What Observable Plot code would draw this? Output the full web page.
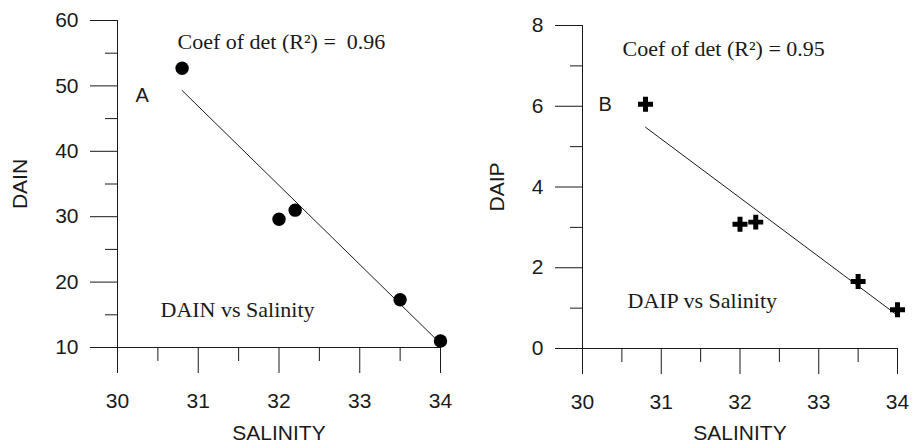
<!DOCTYPE html>
<html><head><meta charset="utf-8">
<script src="https://cdn.jsdelivr.net/npm/d3@7"></script>
<script src="https://cdn.jsdelivr.net/npm/@observablehq/plot@0.6"></script>
<style>
body{margin:0;background:#fff;}
#wrap{display:flex;width:912px;height:448px;}
#wrap svg{display:block;}
</style></head><body><div id="wrap"></div>
<script>
// ---- data ----
const salinity = [30.8, 32.0, 32.2, 33.5, 34.0];
const dain = [52.7, 29.6, 31.0, 17.3, 11.0];
const daip = [6.05, 3.08, 3.13, 1.66, 0.96];
const fitSalinity = [30.8, 34.0];
const fitDain = [49.3, 10.6];
const fitDaip = [5.48, 0.82];
const xTicks = [30, 31, 32, 33, 34];
const xMinorTicks = [30.5, 31.5, 32.5, 33.5];
const dainTicks = [10, 20, 30, 40, 50, 60];
const dainMinorTicks = [15, 25, 35, 45, 55];
const daipTicks = [0, 2, 4, 6, 8];
const daipMinorTicks = [1, 3, 5, 7];
const panelLetters = ["A", "B"];
const r2Texts = ["Coef of det (R\u00B2) =  0.96", "Coef of det (R\u00B2) = 0.95"];
const titles = ["DAIN vs Salinity", "DAIP vs Salinity"];
const yLabels = ["DAIN", "DAIP"];
const xLabel = "SALINITY";

const sans = "'Liberation Sans', Arial, sans-serif";
const serif = "'Liberation Serif', 'Times New Roman', serif";
const ink = "#1a1a1a";

function panel(cfg) {
  const pts = salinity.map((s, i) => ({s, v: cfg.values[i]}));
  const fit = fitSalinity.map((s, i) => ({s, v: cfg.fit[i]}));
  const ann = (txt, dx, dy, font, size) => Plot.text([txt], {
    text: d => d, frameAnchor: "top-left", textAnchor: "start", lineAnchor: "bottom",
    dx, dy, fontFamily: font, fontSize: size, fill: ink
  });
  return Plot.plot({
    width: 456, height: 448,
    marginLeft: cfg.ml, marginRight: cfg.mr, marginTop: cfg.mt, marginBottom: cfg.mb,
    style: {fontFamily: sans, fontSize: "21px", color: ink, background: "#fff", overflow: "visible"},
    x: {domain: [30, 34]},
    y: {domain: cfg.domain},
    marks: [
      Plot.ruleY([cfg.domain[0]], {stroke: ink, strokeWidth: 1}),
      Plot.ruleX([30], {stroke: ink, strokeWidth: 1}),
      Plot.axisX({ticks: xTicks, tickSize: 26, tickPadding: 20, tickFormat: d => String(d), fontSize: 21,
        label: xLabel, labelAnchor: "center", labelArrow: "none", labelOffset: cfg.xlo, stroke: ink}),
      Plot.axisX({ticks: xMinorTicks, tickSize: 14, tickFormat: () => "", label: null, stroke: ink}),
      Plot.axisY({ticks: cfg.ticks, tickSize: 27, tickPadding: 12, tickFormat: d => String(d), fontSize: 21,
        label: cfg.yLabel, labelAnchor: "center", labelArrow: "none", labelOffset: cfg.lo, stroke: ink}),
      Plot.axisY({ticks: cfg.minor, tickSize: 12, tickFormat: () => "", label: null, stroke: ink}),
      Plot.line(fit, {x: "s", y: "v", stroke: ink, strokeWidth: 1}),
      cfg.symbol === "circle"
        ? Plot.dot(pts, {x: "s", y: "v", r: 6.7, fill: "#000", stroke: "none"})
        : Plot.dot(pts, {x: "s", y: "v", r: 6.3, symbol: "cross", fill: "#000", stroke: "none"}),
      ann(cfg.r2, cfg.r2dx, cfg.r2dy, serif, 22),
      ann(cfg.letter, cfg.ldx, cfg.ldy, sans, 20),
      ann(cfg.title, cfg.tdx, cfg.tdy, serif, 22)
    ]
  });
}

const wrap = document.getElementById("wrap");
wrap.appendChild(panel({
  values: dain, fit: fitDain, domain: [10, 60], ticks: dainTicks, minor: dainMinorTicks,
  yLabel: yLabels[0], ml: 117, mr: 16, mt: 20, mb: 101, lo: 105, xlo: 92, symbol: "circle",
  r2: r2Texts[0], r2dx: 60, r2dy: 28, letter: panelLetters[0], ldx: 18, ldy: 81,
  title: titles[0], tdx: 43, tdy: 296
}));
wrap.appendChild(panel({
  values: daip, fit: fitDaip, domain: [0, 8], ticks: daipTicks, minor: daipMinorTicks,
  yLabel: yLabels[1], ml: 126, mr: 15, mt: 25, mb: 100, lo: 93, xlo: 91, symbol: "cross",
  r2: r2Texts[1], r2dx: 40, r2dy: 30, letter: panelLetters[1], ldx: 16, ldy: 85,
  title: titles[1], tdx: 45, tdy: 282
}));
</script></body></html>
